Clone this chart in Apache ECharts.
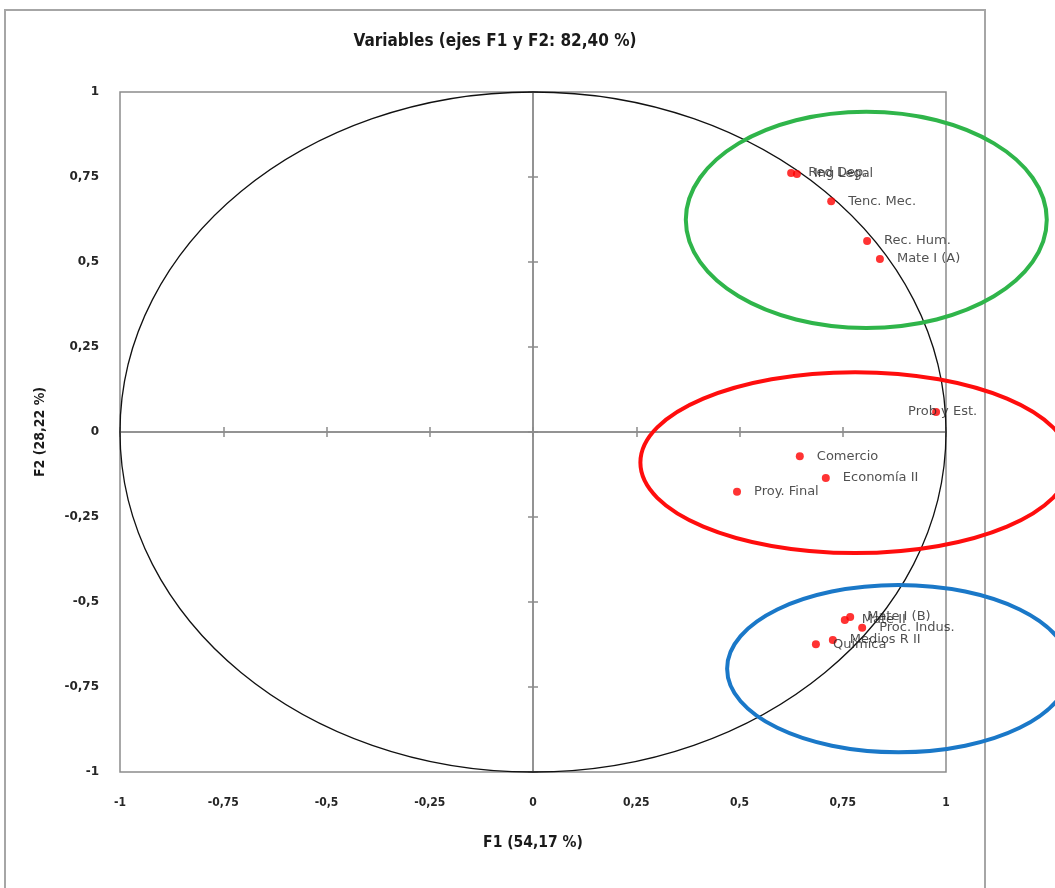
<!DOCTYPE html>
<html>
<head>
<meta charset="utf-8">
<script src="https://cdn.jsdelivr.net/npm/echarts@6/dist/echarts.min.js"></script>
<style>html,body{margin:0;padding:0;background:#fff;}#c{width:1055px;height:888px;}</style>
</head>
<body>
<div id="c"></div>
<script>
// ---- data ----
const varNames = ['Red Dep.', 'Ing Legal', 'Tenc. Mec.', 'Rec. Hum.', 'Mate I (A)', 'Prob y Est.', 'Comercio', 'Economía II', 'Proy. Final', 'Mate II', 'Mate I (B)', 'Proc. Indus.', 'Medios R II', 'Química'];
const f1Values = [0.625, 0.639, 0.722, 0.809, 0.840, 0.976, 0.646, 0.709, 0.494, 0.755, 0.768, 0.797, 0.726, 0.685];
const f2Values = [0.762, 0.759, 0.679, 0.562, 0.509, 0.059, -0.071, -0.135, -0.176, -0.553, -0.544, -0.576, -0.612, -0.624];
const axisTicks = [-1, -0.75, -0.5, -0.25, 0, 0.25, 0.5, 0.75, 1];
const titleText = 'Variables (ejes F1 y F2: 82,40 %)';
const xName = 'F1 (54,17 %)';
const yName = 'F2 (28,22 %)';
// correlation circle (radius 1) and group ellipses, in data units
const circleCenter = [0, 0];
const circleRadius = [1, 1];
const groupCx = [0.807, 0.780, 0.885];
const groupCy = [0.624, -0.090, -0.696];
const groupRx = [0.437, 0.520, 0.415];
const groupRy = [0.318, 0.266, 0.246];

// ---- styles ----
const groupColors = ['#2fb54a', '#ff0d0d', '#1a78c8'];
const axisGray = '#8c8c8c';
const labelColor = '#262626';
const narrowBold = "'DejaVu Sans Condensed','Liberation Sans Narrow','Liberation Sans',sans-serif";
const shiftedLabels = { 'Prob y Est.': -24 };

const fmt = v => String(v).replace('.', ',');

const pointData = varNames.map((n, i) => {
  const d = { name: n, value: [f1Values[i], f2Values[i]] };
  if (shiftedLabels[n] !== undefined) {
    d.label = { show: true, position: [shiftedLabels[n], 4], align: 'left', verticalAlign: 'middle', distance: 0 };
  }
  return d;
});

const ellipseRender = (colors, widths) => function (params, api) {
  const c = api.coord([api.value(0), api.value(1)]);
  const s = api.size([api.value(2), api.value(3)]);
  return {
    type: 'ellipse',
    shape: { cx: c[0], cy: c[1], rx: s[0], ry: s[1] },
    style: { fill: 'none', stroke: colors[params.dataIndex], lineWidth: widths }
  };
};

const zeroAxis = (pos) => ({
  type: 'value', min: -1, max: 1, interval: 0.25, position: pos,
  axisLine: { show: true, onZero: true, onZeroAxisIndex: 0, lineStyle: { color: axisGray, width: 1.5 } },
  axisTick: { show: true, length: 5, lineStyle: { color: axisGray, width: 1.5 } },
  axisLabel: { show: false }, splitLine: { show: false }
});

const chart = echarts.init(document.getElementById('c'), null, { renderer: 'canvas' });
chart.setOption({
  animation: false,
  backgroundColor: '#fff',
  graphic: [
    { type: 'rect', z: -10, shape: { x: 5, y: 10, width: 980, height: 900 },
      style: { fill: 'none', stroke: '#a6a6a6', lineWidth: 2 } },
    { type: 'text', x: 495, y: 42, style: { text: titleText, textAlign: 'center', textVerticalAlign: 'middle',
      font: "bold 17px " + narrowBold, fill: '#1a1a1a' } }
  ],
  grid: { left: 120, top: 92, right: 109, bottom: 116, containLabel: false, outerBoundsMode: 'none',
    show: true, borderColor: axisGray, borderWidth: 1.5, backgroundColor: 'transparent' },
  xAxis: [
    { type: 'value', min: -1, max: 1, interval: 0.25, position: 'bottom',
      axisLine: { show: false, onZero: false }, axisTick: { show: false }, splitLine: { show: false },
      axisLabel: { margin: 25, formatter: fmt, color: labelColor, fontFamily: narrowBold, fontWeight: 'bold', fontSize: 12 },
      name: xName, nameLocation: 'middle', nameGap: 71,
      nameTextStyle: { fontFamily: narrowBold, fontWeight: 'bold', fontSize: 15.5, color: '#1a1a1a', verticalAlign: 'middle' } },
    zeroAxis('top'),
    zeroAxis('bottom')
  ],
  yAxis: [
    { type: 'value', min: -1, max: 1, interval: 0.25, position: 'left',
      axisLine: { show: false, onZero: false }, axisTick: { show: false }, splitLine: { show: false },
      axisLabel: { margin: 21, formatter: fmt, color: labelColor, fontFamily: 'DejaVu Sans', fontWeight: 'bold', fontSize: 12 },
      name: yName, nameLocation: 'middle', nameGap: 80, nameRotate: 90,
      nameTextStyle: { fontFamily: narrowBold, fontWeight: 'bold', fontSize: 14, color: '#1a1a1a', verticalAlign: 'middle' } },
    zeroAxis('left'),
    zeroAxis('right')
  ],
  series: [
    { type: 'custom', silent: true, clip: false, xAxisIndex: 0, yAxisIndex: 0, z: 1,
      data: [[circleCenter[0], circleCenter[1], circleRadius[0], circleRadius[1]]],
      renderItem: ellipseRender(['#111'], 1.3) },
    { type: 'custom', silent: true, clip: false, xAxisIndex: 0, yAxisIndex: 0, z: 3,
      data: groupCx.map((cx, i) => [cx, groupCy[i], groupRx[i], groupRy[i]]),
      renderItem: ellipseRender(groupColors, 4) },
    { type: 'scatter', xAxisIndex: 0, yAxisIndex: 0, z: 4, symbolSize: 8,
      itemStyle: { color: '#ff0000' },
      label: { show: true, position: 'right', distance: 13, formatter: '{b}',
        color: labelColor, fontFamily: 'DejaVu Sans', fontSize: 13 },
      data: pointData }
  ]
});
</script>
</body>
</html>
